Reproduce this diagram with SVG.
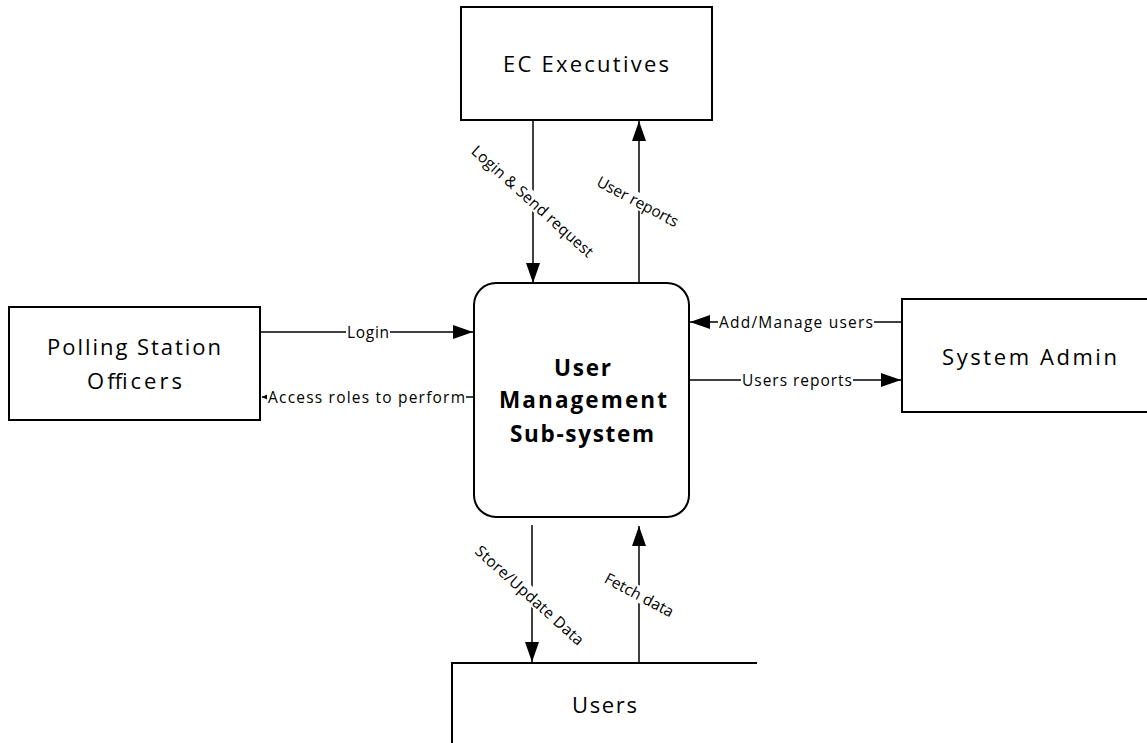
<svg xmlns="http://www.w3.org/2000/svg" width="1147" height="743" viewBox="0 0 1147 743">
  <style>
    .box { fill: #ffffff; stroke: #000000; stroke-width: 2; }
    .flow { fill: none; stroke: #000000; stroke-width: 1.5; }
    .name { font-family: "Open Sans", "Noto Sans", sans-serif; font-size: 22px; fill: #000000; text-anchor: middle; }
    .core { font-family: "Open Sans", "Noto Sans", sans-serif; font-size: 22.5px; font-weight: bold; fill: #000000; text-anchor: middle; }
    .lbl { font-family: "Open Sans", "Noto Sans", sans-serif; font-size: 15.5px; fill: #000000; text-anchor: middle; dominant-baseline: central; }
    .bg { fill: #ffffff; }
  </style>
  <defs>
    <marker id="arrow" viewBox="0 0 20 14" refX="20" refY="7" markerWidth="20" markerHeight="14" markerUnits="userSpaceOnUse" orient="auto">
      <path d="M0,0 L20,7 L0,14 Z" fill="#000000"/>
    </marker>
    <marker id="arrowSmall" viewBox="0 0 6 6" refX="6" refY="3" markerWidth="6" markerHeight="6" markerUnits="userSpaceOnUse" orient="auto">
      <path d="M0,0 L6,3 L0,6 Z" fill="#000000"/>
    </marker>
  </defs>

  <rect width="1147" height="743" fill="#ffffff"/>

  <!-- data flows -->
  <g id="connectors">
    <line class="flow" x1="533" y1="120" x2="533" y2="283" marker-end="url(#arrow)"/>
    <line class="flow" x1="639" y1="283" x2="639" y2="121" marker-end="url(#arrow)"/>
    <line class="flow" x1="260" y1="332" x2="473" y2="332" marker-end="url(#arrow)"/>
    <line class="flow" x1="474" y1="397" x2="262" y2="397" marker-end="url(#arrowSmall)"/>
    <line class="flow" x1="902" y1="322" x2="690" y2="322" marker-end="url(#arrow)"/>
    <line class="flow" x1="689" y1="380" x2="901" y2="380" marker-end="url(#arrow)"/>
    <line class="flow" x1="532" y1="525" x2="532" y2="662" marker-end="url(#arrow)"/>
    <line class="flow" x1="639" y1="663" x2="639" y2="526" marker-end="url(#arrow)"/>

    <!-- flow labels -->
    <g id="lbl-login-send" transform="rotate(42 533 201)">
      <rect class="bg" x="453" y="193" width="160" height="16"/>
      <text class="lbl" x="533" y="201" textLength="158" lengthAdjust="spacing">Login &amp; Send request</text>
    </g>
    <g id="lbl-user-reports" transform="rotate(28 638 201)">
      <rect class="bg" x="592" y="193" width="92" height="16"/>
      <text class="lbl" x="638" y="201" textLength="90" lengthAdjust="spacing">User reports</text>
    </g>
    <g id="lbl-login">
      <rect class="bg" x="346" y="324" width="44" height="16"/>
      <text class="lbl" x="368" y="332" textLength="42" lengthAdjust="spacing">Login</text>
    </g>
    <g id="lbl-access">
      <rect class="bg" x="267" y="389" width="199" height="16"/>
      <text class="lbl" x="366.5" y="397" textLength="197" lengthAdjust="spacing">Access roles to perform</text>
    </g>
    <g id="lbl-add-manage">
      <rect class="bg" x="718" y="314" width="156" height="16"/>
      <text class="lbl" x="796" y="322" textLength="154" lengthAdjust="spacing">Add/Manage users</text>
    </g>
    <g id="lbl-users-reports">
      <rect class="bg" x="741" y="372" width="112" height="16"/>
      <text class="lbl" x="797" y="380" textLength="110" lengthAdjust="spacing">Users reports</text>
    </g>
    <g id="lbl-store-update" transform="rotate(42 530 595)">
      <rect class="bg" x="459" y="587" width="142" height="16"/>
      <text class="lbl" x="530" y="595" textLength="140" lengthAdjust="spacing">Store/Update Data</text>
    </g>
    <g id="lbl-fetch" transform="rotate(28 639.5 594.5)">
      <rect class="bg" x="600.5" y="586.5" width="78" height="16"/>
      <text class="lbl" x="639.5" y="594.5" textLength="76" lengthAdjust="spacing">Fetch data</text>
    </g>
  </g>

  <!-- external entities -->
  <g id="ec-executives">
    <rect class="box" x="461" y="7" width="251" height="113"/>
    <text class="name" x="586" y="72" textLength="166" lengthAdjust="spacing">EC Executives</text>
  </g>

  <g id="polling-station-officers">
    <rect class="box" x="9" y="307" width="251" height="113"/>
    <text class="name" x="134" y="355" textLength="174" lengthAdjust="spacing">Polling Station</text>
    <text class="name" x="134.5" y="389" textLength="95" lengthAdjust="spacing">Officers</text>
  </g>

  <g id="system-admin">
    <rect class="box" x="902" y="299" width="260" height="113"/>
    <text class="name" x="1029.5" y="365" textLength="175" lengthAdjust="spacing">System Admin</text>
  </g>

  <!-- central process -->
  <g id="user-management">
    <rect class="box" x="474" y="283" width="215" height="234" rx="22" ry="22"/>
    <text class="core" x="582.5" y="376" textLength="57" lengthAdjust="spacing">User</text>
    <text class="core" x="583" y="408" textLength="168" lengthAdjust="spacing">Management</text>
    <text class="core" x="582" y="442" textLength="144" lengthAdjust="spacing">Sub-system</text>
  </g>

  <!-- data store -->
  <g id="users">
    <path class="box" d="M757,663 H452 V745" style="fill:none"/>
    <text class="name" x="604.5" y="713" textLength="65" lengthAdjust="spacing">Users</text>
  </g>
</svg>
